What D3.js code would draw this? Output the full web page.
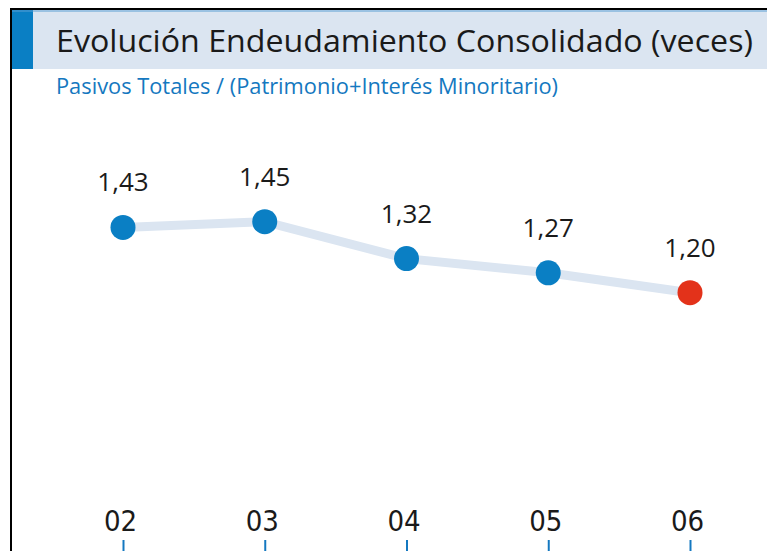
<!DOCTYPE html>
<html><head><meta charset="utf-8">
<script src="https://cdn.jsdelivr.net/npm/d3@7"></script>
<style>html,body{margin:0;padding:0;background:#fff;}svg{display:block;}</style>
</head><body>
<script>
const years = ["02","03","04","05","06"];
const values = [1.43,1.45,1.32,1.27,1.20];
const valueLabels = ["1,43","1,45","1,32","1,27","1,20"];
const title = "Evolución Endeudamiento Consolidado (veces)";
const subtitle = "Pasivos Totales / (Patrimonio+Interés Minoritario)";

const W=767,H=551;
const svg=d3.select("body").append("svg").attr("width",W).attr("height",H);
svg.append("rect").attr("width",W).attr("height",H).attr("fill","#fff");
// header
svg.append("rect").attr("x",12).attr("y",10).attr("width",W-12).attr("height",59).attr("fill","#dbe5f1");
svg.append("rect").attr("x",12).attr("y",10).attr("width",21).attr("height",59).attr("fill","#0a7fc4");
svg.append("line").attr("x1",12).attr("x2",W).attr("y1",11).attr("y2",11).attr("stroke","#5a9fd4").attr("stroke-width",1);
svg.append("line").attr("x1",10).attr("x2",W).attr("y1",9).attr("y2",9).attr("stroke","#000").attr("stroke-width",2);
svg.append("line").attr("x1",11).attr("x2",11).attr("y1",8).attr("y2",H).attr("stroke","#000").attr("stroke-width",2);
svg.append("text").attr("x",56).attr("y",52).attr("font-family","Open Sans").attr("font-size",31)
  .attr("font-weight",500).attr("fill","#1a1a1a")
  .attr("textLength",697).attr("lengthAdjust","spacingAndGlyphs").text(title);
svg.append("text").attr("x",56).attr("y",94).attr("font-family","Open Sans").attr("font-size",21)
  .attr("fill","#1478c0").attr("textLength",502).attr("lengthAdjust","spacingAndGlyphs").text(subtitle);

const x=d3.scalePoint().domain(years).range([123,690]);
const y=d3.scaleLinear().domain([1.0,1.5]).range([349.5,207.5]);

svg.append("path").datum(values.map((v,i)=>[years[i],v]))
  .attr("d",d3.line().x(d=>x(d[0])).y(d=>y(d[1])))
  .attr("fill","none").attr("stroke","#dbe5f1").attr("stroke-width",9);

svg.selectAll("circle.pt").data(values).enter().append("circle")
  .attr("cx",(d,i)=>x(years[i])).attr("cy",d=>y(d)).attr("r",12.5)
  .attr("fill",(d,i)=>i===values.length-1?"#e3321a":"#0a7fc4");

svg.selectAll("text.lbl").data(values).enter().append("text")
  .attr("x",(d,i)=>x(years[i])).attr("y",d=>y(d)-36)
  .attr("text-anchor","middle").attr("font-family","Open Sans").attr("font-size",26)
  .attr("fill","#1a1a1a").text((d,i)=>valueLabels[i]);

const axis=d3.axisBottom(x).tickSize(0).tickPadding(0);
const g=svg.append("g").attr("transform","translate(0,531)").call(axis);
g.select(".domain").remove();
g.selectAll("text").attr("font-family","Liberation Sans Narrow, DejaVu Sans Condensed").attr("font-size",29)
  .attr("fill","#1a1a1a").attr("dy",0).attr("dx",-3);
g.selectAll(".tick").append("line").attr("y1",9).attr("y2",20).attr("stroke","#1478c0").attr("stroke-width",2);
</script>
</body></html>
